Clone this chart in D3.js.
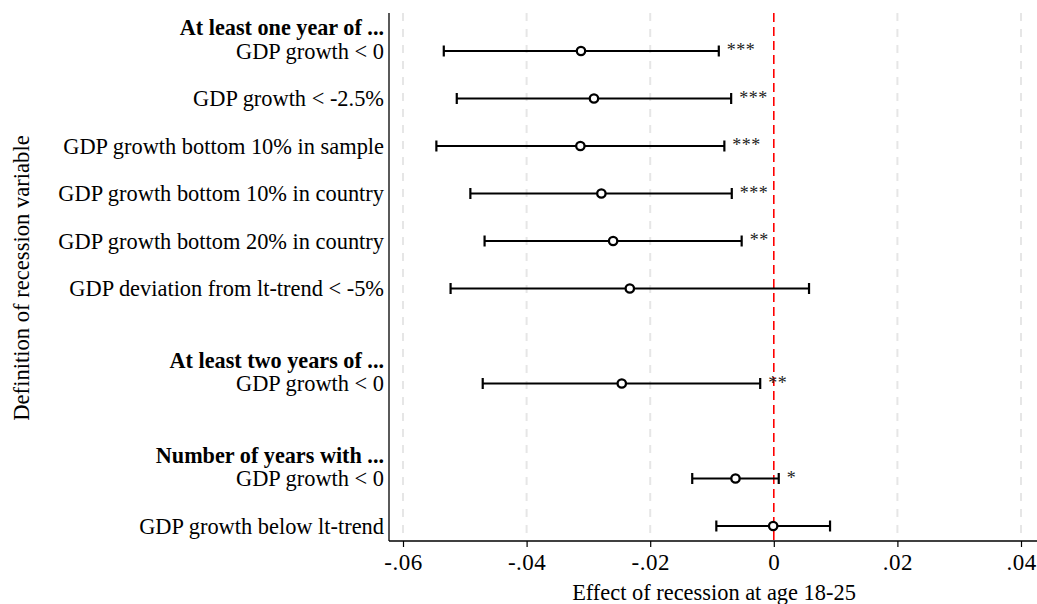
<!DOCTYPE html>
<html lang="en">

<head>
    <meta charset="utf-8">
    <title>Effect of recession at age 18-25</title>
    <script src="https://d3js.org/d3.v7.min.js" charset="utf-8"></script>
    <style type="text/css">
        body { margin: 0; background: #fff; }
        svg { display: block; font-family: "Liberation Serif", "Times New Roman", serif; }
    </style>
</head>

<body>
<script type="text/javascript">
    // rows (slot = vertical position in the list)
    var labels = [
        'GDP growth < 0',
        'GDP growth < -2.5%',
        'GDP growth bottom 10% in sample',
        'GDP growth bottom 10% in country',
        'GDP growth bottom 20% in country',
        'GDP deviation from lt-trend < -5%',
        'GDP growth < 0',
        'GDP growth < 0',
        'GDP growth below lt-trend'
    ];
    var slots = [1, 2, 3, 4, 5, 6, 8, 10, 11];
    var coef = [-0.0312, -0.0291, -0.0313, -0.0279, -0.0260, -0.0233, -0.0246, -0.0062, -0.0001];
    var lower = [-0.0534, -0.0513, -0.0546, -0.0491, -0.0468, -0.0523, -0.0471, -0.0132, -0.0093];
    var upper = [-0.0089, -0.0069, -0.0080, -0.0068, -0.0052, 0.0057, -0.0022, 0.0008, 0.0091];
    var stars = ['***', '***', '***', '***', '**', '', '**', '*', ''];

    var headers = ['At least one year of ...', 'At least two years of ...', 'Number of years with ...'];
    var headerSlots = [0.5, 7.5, 9.5];

    var xTicks = [-0.06, -0.04, -0.02, 0, 0.02, 0.04];
    var xTickLabels = ['-.06', '-.04', '-.02', '0', '.02', '.04'];

    var width = 1037, height = 604;
    var plotLeft = 389, plotRight = 1037, plotTop = 13, plotBottom = 541;

    var x = d3.scaleLinear().domain([-0.06, 0.04]).range([403, 1021]);
    var y = d3.scaleLinear().domain([1, 11]).range([51, 526]);

    var rows = labels.map(function (d, i) {
        return { label: d, slot: slots[i], coef: coef[i], lo: lower[i], hi: upper[i], stars: stars[i] };
    });

    var svg = d3.select('body').append('svg')
            .attr('width', width)
            .attr('height', height);

    // grid lines
    svg.append('g').selectAll('line')
            .data(xTicks.filter(function (d) { return d !== 0; }))
            .enter()
            .append('line')
            .attr('x1', function (d) { return x(d); })
            .attr('x2', function (d) { return x(d); })
            .attr('y1', plotTop)
            .attr('y2', plotBottom)
            .style('stroke', '#e6e6e6')
            .style('stroke-width', 2)
            .style('stroke-dasharray', '8,8');

    // reference line at zero
    svg.append('line')
            .attr('x1', x(0)).attr('x2', x(0))
            .attr('y1', plotTop).attr('y2', plotBottom)
            .style('stroke', '#ff0000')
            .style('stroke-width', 1.6)
            .style('stroke-dasharray', '9,5');

    // axes
    var xAxis = d3.axisBottom(x)
            .tickValues(xTicks)
            .tickFormat(function (d, i) { return xTickLabels[i]; })
            .tickSize(6)
            .tickSizeOuter(0);
    var gx = svg.append('g')
            .attr('transform', 'translate(0,' + plotBottom + ')')
            .call(xAxis);
    gx.select('.domain').remove();
    gx.selectAll('line').style('stroke', '#000').style('stroke-width', 1.2);
    gx.selectAll('text')
            .attr('y', 13)
            .style('font-family', '"Liberation Serif", serif')
            .style('font-size', '23px')
            .style('letter-spacing', '0.5px')
            .style('fill', '#000');

    svg.append('line')
            .attr('x1', plotLeft).attr('x2', plotRight)
            .attr('y1', plotBottom).attr('y2', plotBottom)
            .style('stroke', '#000').style('stroke-width', 1.3);
    svg.append('line')
            .attr('x1', plotLeft).attr('x2', plotLeft)
            .attr('y1', plotTop).attr('y2', plotBottom)
            .style('stroke', '#000').style('stroke-width', 1.3);

    // row labels
    svg.append('g').selectAll('text')
            .data(rows)
            .enter()
            .append('text')
            .attr('x', 384)
            .attr('y', function (d) { return y(d.slot); })
            .attr('dy', '0.35em')
            .attr('text-anchor', 'end')
            .style('font-size', '22.4px')
            .text(function (d) { return d.label; });

    svg.append('g').selectAll('text')
            .data(headers)
            .enter()
            .append('text')
            .attr('x', 384)
            .attr('y', function (d, i) { return y(headerSlots[i]); })
            .attr('dy', '0.35em')
            .attr('text-anchor', 'end')
            .style('font-size', '22.2px')
            .style('font-weight', 'bold')
            .text(function (d) { return d; });

    // confidence intervals
    var ci = svg.append('g').selectAll('g')
            .data(rows)
            .enter()
            .append('g');
    ci.append('line')
            .attr('x1', function (d) { return x(d.lo); })
            .attr('x2', function (d) { return x(d.hi); })
            .attr('y1', function (d) { return y(d.slot); })
            .attr('y2', function (d) { return y(d.slot); })
            .style('stroke', '#000').style('stroke-width', 2.2);
    ci.selectAll('line.cap')
            .data(function (d) { return [{ v: d.lo, s: d.slot }, { v: d.hi, s: d.slot }]; })
            .enter()
            .append('line')
            .attr('class', 'cap')
            .attr('x1', function (d) { return x(d.v); })
            .attr('x2', function (d) { return x(d.v); })
            .attr('y1', function (d) { return y(d.s) - 5.5; })
            .attr('y2', function (d) { return y(d.s) + 5.5; })
            .style('stroke', '#000').style('stroke-width', 2.2);
    ci.append('circle')
            .attr('cx', function (d) { return x(d.coef); })
            .attr('cy', function (d) { return y(d.slot); })
            .attr('r', 4.2)
            .style('fill', '#fff')
            .style('stroke', '#000')
            .style('stroke-width', 2.3);
    ci.append('text')
            .attr('x', function (d) { return x(d.hi) + 8; })
            .attr('y', function (d) { return y(d.slot) + 5; })
            .style('font-family', '"Liberation Serif", serif')
            .style('font-size', '18px')
            .style('letter-spacing', '0.5px')
            .style('fill', '#222')
            .text(function (d) { return d.stars; });

    // axis titles
    svg.append('text')
            .attr('x', (plotLeft + plotRight) / 2 + 1)
            .attr('y', 600)
            .attr('text-anchor', 'middle')
            .style('font-size', '22.4px')
            .text('Effect of recession at age 18-25');

    svg.append('text')
            .attr('transform', 'translate(29,278) rotate(-90)')
            .attr('text-anchor', 'middle')
            .style('font-size', '22.6px')
            .text('Definition of recession variable');
</script>
</body>

</html>
